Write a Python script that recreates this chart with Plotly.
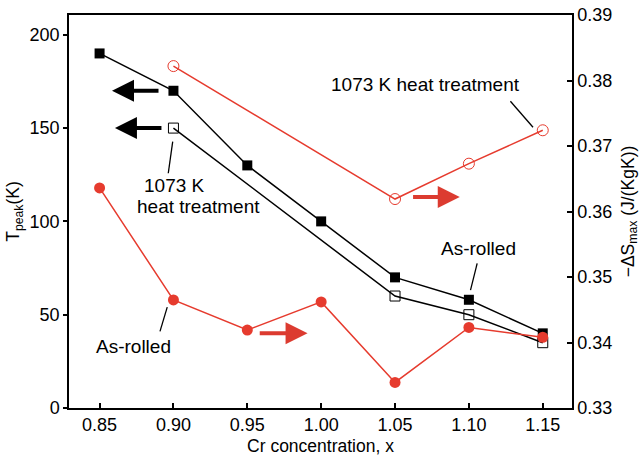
import plotly.graph_objects as go

# Cr concentration
x_all = [0.85, 0.90, 0.95, 1.00, 1.05, 1.10, 1.15]
x_ht = [0.90, 1.05, 1.10, 1.15]

# Peak temperature (K)
tpeak_rolled = [190, 170, 130, 100, 70, 58, 40]
tpeak_ht = [150, 60, 50, 35]

# -dS_max (J/(KgK))
ds_rolled = [0.3636, 0.3465, 0.3419, 0.3462, 0.3339, 0.3423, 0.3408]
ds_ht = [0.3822, 0.3619, 0.3673, 0.3724]

RED = "#e63b2e"
ARROW_RED = "#dc3b30"
FONT = "Liberation Sans, Arial, sans-serif"

fig = go.Figure()

fig.add_trace(go.Scatter(
    x=x_all, y=tpeak_rolled, mode="lines+markers",
    line=dict(color="black", width=1.5),
    marker=dict(symbol="square", size=10, color="black"),
))
fig.add_trace(go.Scatter(
    x=x_ht, y=tpeak_ht, mode="lines+markers",
    line=dict(color="black", width=1.5),
    marker=dict(symbol="square-open", size=10, color="black", line=dict(width=1)),
))
fig.add_trace(go.Scatter(
    x=x_all, y=ds_rolled, mode="lines+markers", yaxis="y2",
    line=dict(color=RED, width=1.5),
    marker=dict(symbol="circle", size=11, color=RED),
))
fig.add_trace(go.Scatter(
    x=x_ht, y=ds_ht, mode="lines+markers", yaxis="y2",
    line=dict(color=RED, width=1.5),
    marker=dict(symbol="circle-open", size=11, color=RED, line=dict(width=1)),
))

annotations = []

def arrow(x0, y0, x1, y1, yref, color):
    annotations.append(dict(
        x=x1, y=y1, ax=x0, ay=y0, xref="x", yref=yref, axref="x", ayref=yref,
        text="", showarrow=True, arrowhead=2, arrowsize=1.1, arrowwidth=4,
        arrowcolor=color, standoff=0, startstandoff=0,
    ))

# axis-pointing arrows
arrow(0.8909, 170, 0.8584, 170, "y", "black")
arrow(0.8929, 150, 0.8604, 150, "y", "black")
arrow(1.0612, 0.3622, 1.0938, 0.3622, "y2", ARROW_RED)
arrow(0.9574, 0.3414, 0.9908, 0.3414, "y2", ARROW_RED)

def label(text, x, y, yref, xanchor="center"):
    annotations.append(dict(
        x=x, y=y, xref="x", yref=yref, text=text, showarrow=False,
        xanchor=xanchor, yanchor="middle",
        font=dict(family=FONT, size=19, color="black"),
    ))

label("1073 K", 0.8785, 119.1, "y", "left")
label("heat treatment", 0.874, 107.9, "y", "left")
label("1073 K heat treatment", 1.0708, 0.37939, "y2")
label("As-rolled", 1.1067, 85.6, "y")
label("As-rolled", 0.8728, 0.33937, "y2")

shapes = [
    dict(type="line", xref="x", yref="y", x0=0.8995, y0=142.7, x1=0.8965, y1=125.8,
         line=dict(color="black", width=1.3)),
    dict(type="line", xref="x", yref="y2", x0=1.1281, y0=0.37684, x1=1.1434, y1=0.37286,
         line=dict(color="black", width=1.3)),
    dict(type="line", xref="x", yref="y", x0=1.1056, y0=77.5, x1=1.1011, y1=63.2,
         line=dict(color="black", width=1.3)),
    dict(type="line", xref="x", yref="y2", x0=0.8958, y0=0.3454, x1=0.8909, y1=0.3417,
         line=dict(color="black", width=1.3)),
]

fig.update_layout(
    width=641, height=459,
    margin=dict(l=69, r=69, t=15, b=51),
    paper_bgcolor="white", plot_bgcolor="white",
    showlegend=False,
    font=dict(family=FONT, size=18, color="black"),
    annotations=annotations,
    shapes=shapes,
    xaxis=dict(
        range=[0.8293, 1.1698], automargin=False,
        tickvals=x_all, ticktext=["0.85", "0.90", "0.95", "1.00", "1.05", "1.10", "1.15"],
        ticks="inside", ticklen=5, tickwidth=1.5, tickcolor="black",
        showline=True, linecolor="black", linewidth=1.5, mirror=True,
        showgrid=False, zeroline=False,
        title=dict(text="Cr concentration, x", font=dict(size=17.5), standoff=5),
    ),
    yaxis=dict(
        range=[0, 210.6], automargin=False,
        tickvals=[0, 50, 100, 150, 200],
        ticks="outside", ticklen=4, tickwidth=1.5, tickcolor="black",
        showline=True, linecolor="black", linewidth=1.5,
        showgrid=False, zeroline=False,
        title=dict(text="T<sub>peak</sub>(K)", font=dict(size=17.5), standoff=5),
    ),
    yaxis2=dict(
        range=[0.33, 0.39], overlaying="y", side="right", automargin=False,
        tickvals=[0.33, 0.34, 0.35, 0.36, 0.37, 0.38, 0.39],
        tickformat=".2f",
        ticks="inside", ticklen=5, tickwidth=1.5, tickcolor="black",
        showline=True, linecolor="black", linewidth=1.5,
        showgrid=False, zeroline=False,
        title=dict(text="\u2212\u0394S<sub>max</sub> (J/(KgK))", font=dict(size=17.5), standoff=10),
    ),
)

fig.write_html("out.html")
